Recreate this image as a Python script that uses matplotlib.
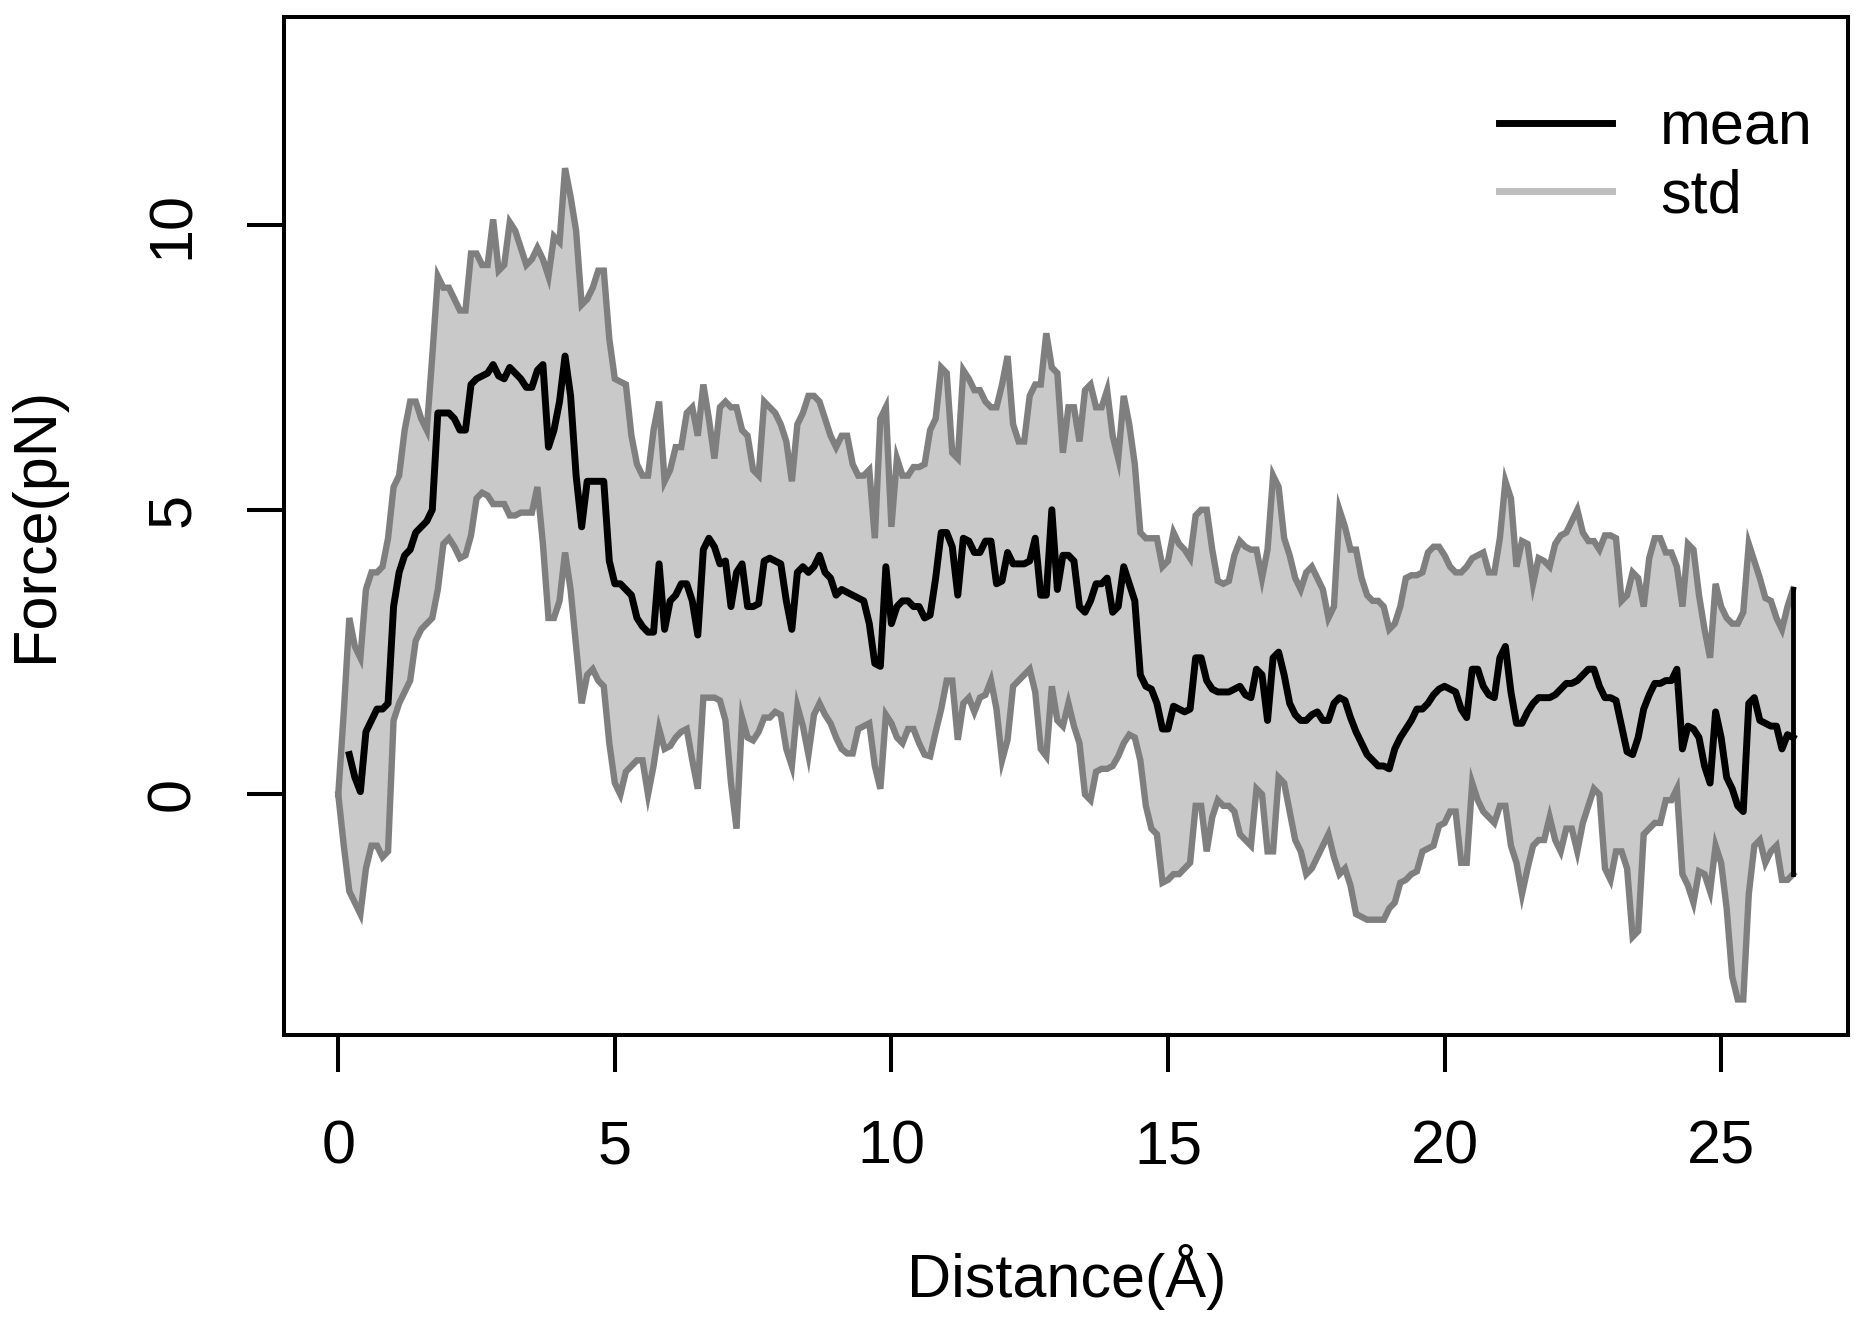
import numpy as np
import matplotlib
matplotlib.use("Agg")
import matplotlib.pyplot as plt
from matplotlib.lines import Line2D

plt.rcParams["font.family"] = ["Liberation Sans", "DejaVu Sans"]

# distance grid (0.1 A sampling); band starts at the origin, mean starts at 0.2
distance = np.linspace(0.0, 26.3, 264)

mean_force = [
    0.7, 0.3, 0.05, 1.1, 1.3, 1.5, 1.5, 1.6, 3.3, 3.9,
    4.2, 4.3, 4.6, 4.7, 4.8, 5.0, 6.7, 6.7, 6.7, 6.6,
    6.4, 6.4, 7.2, 7.3, 7.35, 7.4, 7.55, 7.35, 7.3, 7.5,
    7.4, 7.3, 7.15, 7.15, 7.45, 7.55, 6.1, 6.4, 6.9, 7.7,
    7.0, 5.6, 4.7, 5.5,
    5.5, 5.5, 5.5, 4.1, 3.7, 3.7, 3.6, 3.5, 3.1, 2.95,
    2.85, 2.85, 4.05, 2.9, 3.4, 3.5, 3.7, 3.7, 3.4, 2.8,
    4.3, 4.5, 4.35, 4.05, 4.1, 3.3, 3.9, 4.05, 3.3, 3.3,
    3.35, 4.1, 4.15, 4.1, 4.05, 3.4, 2.9, 3.9, 4.0, 3.9,
    4.0, 4.2, 3.9, 3.8, 3.5,
    3.6, 3.55, 3.5, 3.45, 3.4, 3.0, 2.3, 2.25, 4.0, 3.0,
    3.3, 3.4, 3.4, 3.3, 3.3, 3.1, 3.15, 3.8, 4.6, 4.6,
    4.35, 3.5, 4.5, 4.45, 4.25, 4.25, 4.45, 4.45, 3.7, 3.75,
    4.25, 4.05, 4.05, 4.05, 4.1, 4.5, 3.5, 3.5, 5.0, 3.6,
    4.2, 4.2, 4.1, 3.3, 3.2,
    3.4, 3.7, 3.7, 3.8, 3.2, 3.3, 4.0, 3.7, 3.4, 2.1,
    1.9, 1.85, 1.6, 1.15, 1.15, 1.55, 1.5, 1.45, 1.5, 2.4,
    2.4, 2.0, 1.85, 1.8, 1.8, 1.8, 1.85, 1.9, 1.75, 1.7,
    2.2, 2.1, 1.3, 2.4, 2.5, 2.1, 1.6, 1.4, 1.3, 1.3,
    1.4, 1.45, 1.3, 1.3, 1.6,
    1.7, 1.65, 1.35, 1.1, 0.9, 0.7, 0.6, 0.5, 0.5, 0.45,
    0.8, 1.0, 1.15, 1.3, 1.5, 1.5, 1.6, 1.75, 1.85, 1.9,
    1.85, 1.8, 1.5, 1.35, 2.2, 2.2, 1.9, 1.75, 1.7, 2.4,
    2.6, 1.8, 1.25, 1.25, 1.45, 1.6, 1.7, 1.7, 1.7, 1.75,
    1.85, 1.95, 1.95, 2.0, 2.1,
    2.2, 2.2, 1.9, 1.7, 1.7, 1.65, 1.2, 0.75, 0.7, 1.0,
    1.5, 1.75, 1.95, 1.95, 2.0, 2.0, 2.2, 0.8, 1.2, 1.15,
    1.0, 0.5, 0.2, 1.45, 1.0, 0.3, 0.1, -0.2, -0.3, 1.6,
    1.7, 1.3, 1.25, 1.2, 1.2, 0.8, 1.05, 1.0,
]

upper_force = [
    0.0, 1.45,
    3.1, 2.6, 2.4, 3.6, 3.9, 3.9, 4.0, 4.5, 5.4, 5.6,
    6.4, 6.9, 6.9, 6.6, 6.4, 7.7, 9.1, 8.9, 8.9, 8.7,
    8.5, 8.5, 9.5, 9.5, 9.3, 9.3, 10.1, 9.2, 9.3, 10.05,
    9.9, 9.6, 9.3, 9.4, 9.6, 9.4, 9.1, 9.8, 9.7, 11.0,
    10.5, 9.9, 8.6, 8.7,
    8.9, 9.2, 9.2, 8.0, 7.3, 7.25, 7.2, 6.3, 5.8, 5.6,
    5.6, 6.4, 6.9, 5.5, 5.7, 6.1, 6.1, 6.7, 6.8, 6.3,
    7.2, 6.6, 5.9, 6.8, 6.9, 6.8, 6.8, 6.4, 6.3, 5.7,
    5.6, 6.9, 6.8, 6.7, 6.5, 6.2, 5.5, 6.5, 6.7, 7.0,
    7.0, 6.9, 6.6, 6.3, 6.1,
    6.3, 6.3, 5.8, 5.6, 5.6, 5.7, 4.5, 6.6, 6.8, 4.7,
    5.9, 5.6, 5.6, 5.75, 5.75, 5.8, 6.4, 6.6, 7.5, 7.4,
    6.0, 5.9, 7.45, 7.3, 7.1, 7.1, 6.9, 6.8, 6.8, 7.2,
    7.7, 6.5, 6.2, 6.2, 7.0, 7.2, 7.2, 8.1, 7.5, 7.4,
    6.0, 6.8, 6.8, 6.2, 7.1,
    7.2, 6.8, 6.8, 7.1, 6.3, 5.9, 7.0, 6.5, 5.8, 4.6,
    4.5, 4.5, 4.5, 4.0, 4.1, 4.6, 4.4, 4.3, 4.15, 4.9,
    5.0, 5.0, 4.3, 3.75, 3.7, 3.75, 4.2, 4.45, 4.35, 4.3,
    4.3, 3.8, 4.3, 5.6, 5.4, 4.5, 4.2, 3.8, 3.6, 3.9,
    4.0, 3.8, 3.6, 3.1, 3.3,
    5.0, 4.7, 4.3, 4.3, 3.8, 3.5, 3.4, 3.4, 3.3, 2.9,
    3.0, 3.3, 3.8, 3.85, 3.85, 3.9, 4.25, 4.35, 4.35, 4.2,
    4.0, 3.9, 3.9, 4.0, 4.15, 4.2, 4.25, 3.9, 3.9, 4.5,
    5.5, 5.2, 4.0, 4.45, 4.4, 3.7, 4.15, 4.1, 4.0, 4.4,
    4.55, 4.6, 4.8, 5.0, 4.6,
    4.45, 4.45, 4.3, 4.55, 4.55, 4.5, 3.4, 3.5, 3.9, 3.8,
    3.3, 4.15, 4.5, 4.5, 4.25, 4.25, 4.0, 3.3, 4.4, 4.3,
    3.5, 2.9, 2.4, 3.7, 3.3, 3.1, 3.0, 3.0, 3.2, 4.4,
    4.1, 3.8, 3.45, 3.4, 3.1, 2.9, 3.3, 3.6,
]

lower_force = [
    0.0, -0.9,
    -1.7, -1.9, -2.1, -1.3, -0.9, -0.9, -1.1, -1.0, 1.3, 1.6,
    1.8, 2.0, 2.7, 2.9, 3.0, 3.1, 3.6, 4.4, 4.5, 4.35,
    4.15, 4.2, 4.55, 5.2, 5.3, 5.25, 5.1, 5.1, 5.1, 4.9,
    4.9, 4.95, 4.95, 4.95, 5.4, 4.4, 3.1, 3.1, 3.4, 4.25,
    3.6, 2.6, 1.6, 2.1,
    2.2, 2.0, 1.9, 0.9, 0.2, 0.0, 0.4, 0.5, 0.6, 0.6,
    0.0, 0.5, 1.15, 0.8, 0.85, 1.0, 1.1, 1.15, 0.6, 0.1,
    1.7, 1.7, 1.7, 1.65, 1.3, 0.2, -0.6, 1.35, 1.0, 0.95,
    1.1, 1.35, 1.35, 1.45, 1.4, 0.8, 0.5, 1.55, 1.2, 0.7,
    1.4, 1.6, 1.4, 1.25, 1.0,
    0.8, 0.72, 0.72, 1.15, 1.2, 1.25, 0.5, 0.1, 1.4, 1.25,
    1.0, 0.9, 1.15, 1.15, 0.9, 0.7, 0.67, 1.1, 1.5, 2.0,
    2.0, 0.96, 1.6, 1.7, 1.45, 1.7, 1.75, 2.0, 1.5, 0.6,
    0.96, 1.9, 2.0, 2.1, 2.2, 1.8, 0.8, 0.67, 1.9, 1.3,
    1.2, 1.6, 1.2, 0.9, 0.0,
    -0.1, 0.4, 0.45, 0.45, 0.5, 0.67, 0.9, 1.05, 1.0, 0.6,
    -0.2, -0.6, -0.7, -1.55, -1.5, -1.4, -1.4, -1.3, -1.2, -0.2,
    -0.2, -1.0, -0.4, -0.1, -0.2, -0.2, -0.3, -0.7, -0.8, -0.9,
    0.1, 0.0, -1.0, -1.0, 0.3, 0.2, -0.3, -0.8, -1.0, -1.4,
    -1.3, -1.1, -0.9, -0.7, -1.1,
    -1.4, -1.3, -1.6, -2.1, -2.15, -2.2, -2.2, -2.2, -2.2, -2.0,
    -1.9, -1.55, -1.5, -1.4, -1.35, -1.0, -0.95, -0.9, -0.55, -0.5,
    -0.3, -0.3, -1.2, -1.2, 0.2, -0.1, -0.3, -0.4, -0.5, -0.2,
    -0.2, -0.9, -1.2, -1.75, -1.3, -0.9, -0.8, -0.8, -0.4, -0.8,
    -1.0, -0.6, -0.6, -1.0, -0.5,
    -0.2, 0.1, 0.0, -1.3, -1.5, -1.0, -1.0, -1.3, -2.5, -2.4,
    -0.7, -0.6, -0.5, -0.5, -0.1, -0.1, 0.1, -1.4, -1.6, -1.9,
    -1.35, -1.4, -1.7, -0.9, -1.2, -2.0, -3.2, -3.6, -3.6, -1.75,
    -0.9, -0.8, -1.2, -1.0, -0.9, -1.5, -1.5, -1.4,
]

x_ticks = [0, 5, 10, 15, 20, 25]
y_ticks = [0, 5, 10]
legend_labels = ["mean", "std"]

FILL = "#c9c9c9"
BORDER = "#7f7f7f"
LEGEND_STD = "#bebebe"
FS = 44

fig = plt.figure(figsize=(18.68, 13.32), dpi=100)
ax = fig.add_axes([283.5 / 1868, 1 - 1035.3 / 1332,
                   (1847.8 - 283.5) / 1868, (1035.3 - 16.7) / 1332])

ax.fill_between(distance, lower_force, upper_force, color=FILL, lw=0, zorder=1)
ax.plot(distance, upper_force, color=BORDER, lw=4.6, solid_joinstyle="miter", zorder=2)
ax.plot(distance, lower_force, color=BORDER, lw=4.6, solid_joinstyle="miter", zorder=2)
ax.plot(distance[2:], mean_force, color="black", lw=5, zorder=3)
ax.plot([distance[-1], distance[-1]], [upper_force[-1], lower_force[-1]],
        color="black", lw=3.5, zorder=3)

ax.set_xlim(-0.99, 27.29)
ax.set_ylim(-4.23, 13.66)
ax.set_xticks(x_ticks)
ax.set_yticks(y_ticks)
ax.set_xticklabels([str(t) for t in x_ticks], fontsize=FS)
ax.set_yticklabels([str(t) for t in y_ticks], fontsize=FS, rotation=90, va="center")
ax.tick_params(axis="both", direction="out", length=26.5, width=2.9, color="black")
ax.tick_params(axis="x", pad=34)
ax.tick_params(axis="y", pad=32)
for sp in ax.spines.values():
    sp.set_linewidth(2.9)
    sp.set_color("black")

handles = [Line2D([], [], color="black", lw=5),
           Line2D([], [], color=LEGEND_STD, lw=5)]
ax.legend(handles, legend_labels, loc="upper left", bbox_to_anchor=(0.777, 0.918),
          frameon=False, fontsize=FS, handlelength=1.85, handletextpad=0.79,
          labelspacing=0.19, borderpad=0, borderaxespad=0)

fig.text(1067 / 1868, 1 - 1297 / 1332, "Distance(Å)", fontsize=FS,
         ha="center", va="baseline")
fig.text(36 / 1868, 1 - 524 / 1332, "Force(pN)", fontsize=FS,
         rotation=90, ha="center", va="center")

fig.savefig("out.png", dpi=100)
